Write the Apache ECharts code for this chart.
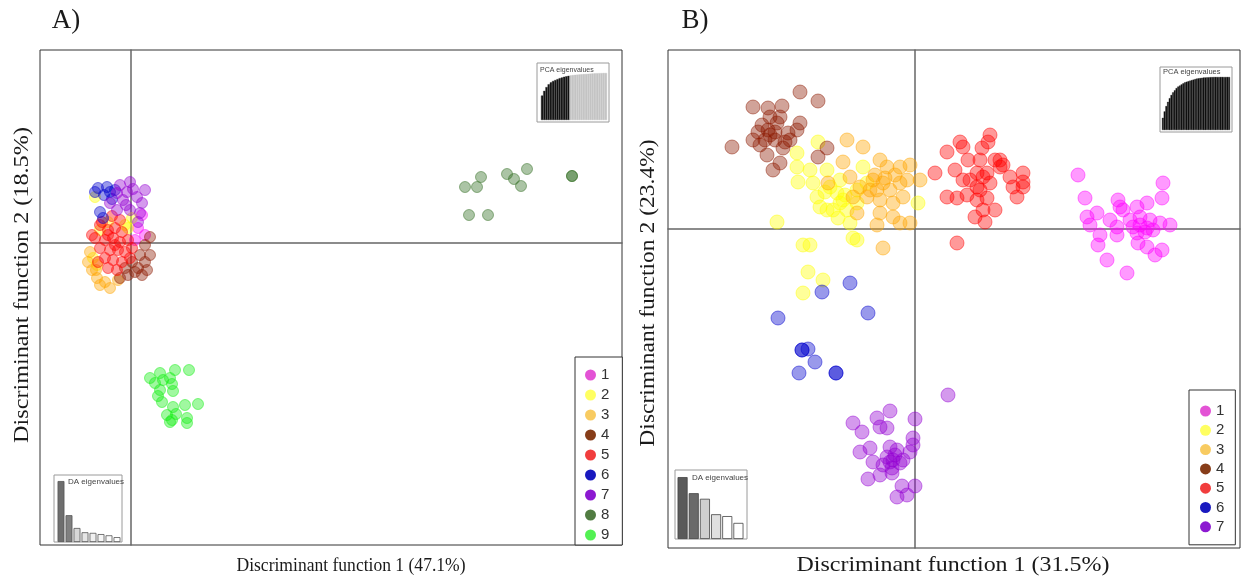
<!DOCTYPE html>
<html><head><meta charset="utf-8">
<script src="https://cdn.jsdelivr.net/npm/echarts@6/dist/echarts.min.js"></script>
<style>html,body{margin:0;padding:0;background:#fff}#c{width:1246px;height:579px}</style>
</head><body><div id="c"></div>
<script>
// ---------- DATA ----------
const groupNamesA = ['1','2','3','4','5','6','7','8','9'];
const groupNamesB = ['1','2','3','4','5','6','7'];
const xTitleA = 'Discriminant function 1 (47.1%)';
const yTitleA = 'Discriminant function 2 (18.5%)';
const xTitleB = 'Discriminant function 1 (31.5%)';
const yTitleB = 'Discriminant function 2 (23.4%)';

// Panel A scores (LD1, LD2)
const A1 = [[0.7,1.5],[1.4,0.8],[1.1,2.8],[0.4,0.3]];
const A2 = [[-3.6,4.6],[0.1,2.5],[-0.6,1.8],[-3.1,1.3],[-3.8,-1.5],[-3.4,-2.2],[-0.3,1.5],[-2.3,2.1]];
const A3 = [[-3.9,-2.7],[-3.4,-3.5],[-2.6,-3.9],[-2.1,-4.5],[-3.1,-4.2],[-4.1,-0.9],[-4.3,-1.9],[-3.5,-2.7],[-1.3,-3.7]];
const A4 = [[0.1,-1.9],[0.7,-2.5],[1.4,-1.9],[1.9,-1.2],[0.9,-1.2],[1.1,-3.2],[0.4,-2.9],[-0.6,-2.5],[1.9,0.6],[1.4,-0.2],[-0.3,-3.2],[-1.1,-3.5],[1.6,-2.7]];
const A5 = [[-3.1,1.8],[-2.3,1.3],[-1.6,1.5],[-0.9,1.1],[-3.6,0.5],[-2.6,0.3],[-1.8,0.5],[-1.1,0.1],[-0.3,0.3],[-3.1,-0.5],[-2.1,-0.7],[-1.3,-0.7],[-0.6,-0.9],[0.1,-0.5],[-2.6,-1.5],[-1.8,-1.7],[-0.9,-1.9],[-3.3,-1.9],[-0.1,-1.5],[-2.3,-2.5],[-1.4,-2.7],[-3.9,0.8],[-2.9,2.1],[-1.9,2.7],[-1.1,2.3],[-1.6,-0.2],[-2.3,0.8]];
const A6 = [[-3.3,5.5],[-2.4,5.6],[-2.1,5.1],[-2.7,4.8],[-1.6,5.3],[-3.1,3.1],[-2.8,2.5],[-1.9,4.4],[-3.6,5.1]];
const A7 = [[-1.4,5.0],[-0.4,5.1],[-0.1,6.1],[-0.8,4.3],[0.6,4.6],[1.1,4.0],[-2.1,4.0],[-1.4,3.3],[-0.1,3.3],[0.9,3.0],[0.7,2.1],[-1.1,5.8],[0.2,5.4],[-0.5,3.8],[1.4,5.3]];
const A8 = [[33.4,5.6],[34.6,5.6],[35.0,6.6],[37.6,6.9],[38.3,6.4],[39.0,5.7],[39.6,7.4],[44.1,6.7],[44.1,6.7],[33.8,2.8],[35.7,2.8]];
const A9 = [[1.9,-13.5],[2.9,-13.0],[3.2,-13.7],[4.4,-12.7],[5.8,-12.7],[3.9,-13.5],[4.1,-14.1],[2.4,-14.0],[2.9,-14.7],[4.2,-14.8],[3.1,-15.9],[2.7,-15.3],[4.2,-16.4],[5.4,-16.2],[6.7,-16.1],[3.6,-17.2],[4.1,-17.7],[3.9,-17.9],[5.6,-17.5],[5.6,-18.0],[4.5,-17.1]];

// Panel B scores (LD1, LD2)
const B1 = [[16.3,5.4],[17.0,3.1],[24.8,4.6],[24.7,3.1],[20.3,2.9],[20.5,2.2],[22.2,2.2],[23.2,2.6],[17.2,1.2],[18.2,1.6],[19.5,0.9],[21.5,0.9],[22.5,1.2],[23.5,0.9],[24.5,0.6],[25.5,0.4],[17.5,0.4],[20.2,0.2],[21.8,0.2],[23.2,0.1],[18.5,-0.6],[20.2,-0.6],[22.2,-0.4],[23.8,-0.1],[18.3,-1.6],[22.3,-1.4],[23.2,-1.8],[24.7,-2.1],[24.0,-2.6],[19.2,-3.1],[21.2,-4.4],[20.8,1.9],[22.5,0.4],[23.0,-0.3]];
const B2 = [[-9.7,8.7],[-11.8,7.6],[-11.8,6.2],[-11.7,4.7],[-10.2,4.6],[-8.8,5.9],[-8.5,4.2],[-7.8,3.6],[-7.5,2.6],[-6.8,1.9],[-8.2,1.9],[-9.5,2.2],[-5.8,2.6],[-6.5,0.6],[-5.8,-1.1],[-6.2,-0.9],[-11.2,-1.6],[-10.5,-1.6],[-13.8,0.7],[-9.8,3.2],[-5.8,3.9],[-7.5,4.9],[-4.8,4.6],[-5.2,6.2],[-8.8,1.9],[-7.7,1.1],[-7.2,2.9],[-7.0,3.4],[0.3,2.6],[-10.7,-4.3],[-9.2,-5.1],[-11.2,-6.4],[-10.5,5.9],[-9.0,3.7]];
const B3 = [[-6.8,8.9],[-5.2,8.2],[-7.2,6.7],[-3.5,6.9],[-2.8,6.2],[-1.5,6.2],[-0.5,6.4],[0.5,4.9],[-6.5,5.2],[-5.5,4.2],[-4.2,4.9],[-3.2,4.6],[-3.8,3.9],[-2.5,3.9],[-1.5,4.6],[-0.8,4.9],[-4.8,3.2],[-3.5,2.9],[-2.2,2.6],[-1.2,3.2],[-6.2,3.2],[-5.8,1.6],[-3.5,1.6],[-2.2,1.2],[-1.5,0.6],[-0.5,0.6],[-3.8,0.4],[-3.2,-1.9],[-8.7,4.6],[-4.0,5.4],[-3.0,5.1],[-4.5,3.9],[-2.0,5.4]];
const B4 = [[-11.5,13.7],[-9.7,12.8],[-16.2,12.2],[-14.7,12.1],[-13.3,12.3],[-15.7,9.7],[-14.7,9.9],[-14.0,9.7],[-12.7,9.6],[-11.8,9.9],[-11.5,10.6],[-14.5,11.2],[-13.5,11.2],[-16.2,8.9],[-15.0,8.9],[-14.0,8.9],[-12.5,8.9],[-18.3,8.2],[-13.2,8.1],[-14.8,7.4],[-13.5,6.6],[-14.2,5.9],[-8.8,8.1],[-9.7,7.2],[-15.3,10.4],[-13.8,10.6],[-14.5,9.4],[-13.0,8.7],[-15.5,8.4]];
const B5 = [[4.5,8.7],[4.8,8.2],[3.2,7.7],[7.5,9.4],[7.3,8.7],[6.7,8.1],[5.3,6.9],[6.5,6.9],[8.5,6.9],[8.8,6.4],[2.0,5.6],[4.0,5.9],[4.8,4.9],[6.2,5.6],[7.2,5.6],[9.5,5.2],[10.8,5.6],[10.8,4.7],[9.8,4.2],[10.8,4.2],[7.5,4.6],[6.2,4.2],[3.2,3.2],[4.2,3.1],[5.2,3.4],[6.2,2.9],[7.2,3.1],[10.2,3.2],[8.0,1.9],[6.8,1.9],[6.0,1.2],[7.0,0.7],[4.2,-1.4],[8.5,6.2],[6.8,5.2],[8.0,6.9],[6.5,3.9],[5.5,4.9]];
const B6 = [[-6.5,-5.4],[-9.3,-6.3],[-13.7,-8.9],[-4.7,-8.4],[-11.3,-12.1],[-11.3,-12.1],[-10.7,-12.0],[-10.0,-13.3],[-11.6,-14.4],[-7.9,-14.4],[-7.9,-14.4]];
const B7 = [[3.3,-16.6],[-2.5,-18.2],[0.0,-19.0],[-3.8,-18.9],[-6.2,-19.4],[-5.3,-20.3],[-3.5,-19.8],[-2.8,-19.9],[-0.2,-20.9],[-0.2,-21.6],[-5.5,-22.3],[-4.5,-21.9],[-2.5,-21.8],[-1.8,-22.1],[-2.8,-22.8],[-2.2,-23.1],[-1.2,-23.1],[-0.5,-22.3],[-4.2,-23.3],[-3.2,-23.6],[-2.3,-23.9],[-1.5,-23.4],[-3.5,-24.6],[-2.3,-24.4],[-4.7,-25.0],[-1.3,-25.7],[0.0,-25.7],[-0.8,-26.6],[-1.8,-26.8],[-2.5,-23.3],[-2.0,-22.6]];

// Inset data
const pcaCumA = [52,62,70,76,80,83,85,87,89,90.5,92,93,94,95,95.5,96,96.5,97,97.3,97.6,98,98.3,98.6,99,99.2,99.4,99.6,99.8,100,100];
const pcaRetainedA = 13;
const pcaCumB = [23,35,45,53,60,66,71,75,79,82,84,86,88,90,91,92,93,94,95,96,97,97.5,98,98.5,99,99,99.3,99.5,99.7,99.8,100,100,100,100,100,100,100,100,100,100];
const pcaRetainedB = 40;
const daEigA = [100,44,23,16,15,13,11,8];
const daEigB = [100,74,65,40,37,26];

// ---------- STYLE ----------
const COLORS = ['#ff00ff','#ffff00','#ffa500','#8b1a00','#ff0000','#0000cd','#9400d3','#2e6b1e','#11ee11'];
const LEGEND_COLORS = ['#e040d0','#ffff50','#f7c550','#7a2800','#f02828','#0000b8','#8000cc','#3e6e2e','#40f040'];
const DA_COLORS_A = ['#6e6e6e','#808080','#d8d8d8','#e6e6e6','#f0f0f0','#f6f6f6','#fbfbfb','#ffffff'];
const DA_COLORS_B = ['#5a5a5a','#6a6a6a','#cfcfcf','#e0e0e0','#ffffff','#ffffff'];

function rgba(hex,a){const n=parseInt(hex.slice(1),16);return 'rgba('+((n>>16)&255)+','+((n>>8)&255)+','+(n&255)+','+a+')';}

const chart = echarts.init(document.getElementById('c'), null, {renderer:'canvas'});

const series = [];
[A1,A2,A3,A4,A5,A6,A7,A8,A9].forEach((d,i)=>series.push({
  name: groupNamesA[i], type:'scatter', xAxisIndex:0, yAxisIndex:0, symbolSize:11, data:d, silent:true,
  itemStyle:{color:rgba(COLORS[i],0.5), borderColor:rgba(COLORS[i],0.6), borderWidth:1}
}));
[B1,B2,B3,B4,B5,B6,B7].forEach((d,i)=>series.push({
  name: groupNamesB[i], type:'scatter', xAxisIndex:1, yAxisIndex:1, symbolSize:14, data:d, silent:true,
  itemStyle:{color:rgba(COLORS[i],0.5), borderColor:rgba(COLORS[i],0.6), borderWidth:1}
}));
series.push({type:'bar', xAxisIndex:2, yAxisIndex:2, barCategoryGap:'0%', silent:true,
  data: pcaCumA.map((v,i)=>({value:v, itemStyle:{color: i<pcaRetainedA?'#111':'#c4c4c4', borderColor: i<pcaRetainedA?'#2a2a2a':'#c4c4c4', borderWidth:0.4}}))});
series.push({type:'bar', xAxisIndex:3, yAxisIndex:3, barCategoryGap:'0%', silent:true,
  data: pcaCumB.map((v,i)=>({value:v, itemStyle:{color: i<pcaRetainedB?'#111':'#c4c4c4', borderColor:'#111', borderWidth:0.3}}))});
series.push({type:'bar', xAxisIndex:4, yAxisIndex:4, barCategoryGap:'14%', silent:true,
  data: daEigA.map((v,i)=>({value:v, itemStyle:{color:DA_COLORS_A[i], borderColor:'#555', borderWidth:0.8}}))});
series.push({type:'bar', xAxisIndex:5, yAxisIndex:5, barCategoryGap:'10%', silent:true,
  data: daEigB.map((v,i)=>({value:v, itemStyle:{color:DA_COLORS_B[i], borderColor:'#444', borderWidth:0.8}}))});

const mainAxisLine = {show:true, onZero:true, lineStyle:{color:'#666', width:1.5}};
function mainX(idx,min,max){return {gridIndex:idx,type:'value',min:min,max:max,axisLine:mainAxisLine,axisTick:{show:false},axisLabel:{show:false},splitLine:{show:false}};}
function mainY(idx,min,max){return {gridIndex:idx,type:'value',min:min,max:max,axisLine:mainAxisLine,axisTick:{show:false},axisLabel:{show:false},splitLine:{show:false}};}
function catX(idx,arr){return {gridIndex:idx,type:'category',data:arr.map((_,i)=>String(i+1)),show:false};}
function valY(idx,max){return {gridIndex:idx,type:'value',min:0,max:max,show:false};}

const serif = '"Liberation Serif","DejaVu Serif",serif';
function label(text,x,y,size,rot,sx){
  return {type:'text', x:x, y:y, rotation:rot||0, scaleX:sx||1, scaleY:1, silent:true, z:10,
    style:{text:text, fill:'#1a1a1a', font:size+'px '+serif, fontSize:size, fontFamily:serif,
      align:'center', verticalAlign:'middle', textAlign:'center', textVerticalAlign:'middle'}};
}
function small(text,x,y,size){
  return {type:'text', x:x, y:y, silent:true, z:10,
    style:{text:text, fill:'#444', font:size+'px "Liberation Sans",sans-serif', fontSize:size,
      align:'left', verticalAlign:'middle', textAlign:'left', textVerticalAlign:'middle'}};
}
function frame(x,y,w,h){return {type:'rect', shape:{x:x,y:y,width:w,height:h}, silent:true, z:0, style:{fill:'none', stroke:'#9a9a9a', lineWidth:1}};}

function legend(names,left,top,padding,gap){
  return {orient:'vertical', left:left, top:top, padding:padding, itemGap:gap, itemWidth:11, itemHeight:11,
    icon:'circle', borderColor:'#333', borderWidth:1, backgroundColor:'#fff', selectedMode:false,
    textStyle:{fontSize:15, lineHeight:16, fontFamily:'"Liberation Sans",Arial,sans-serif', color:'#333'},
    data:names.map((n,i)=>({name:n, itemStyle:{color:LEGEND_COLORS[i], opacity:0.9, borderWidth:0}}))};
}

chart.setOption({
  animation:false,
  backgroundColor:'#fff',
  grid:[
    {left:40, top:50, width:582, height:495, show:true, borderColor:'#333', borderWidth:1},
    {left:668, top:50, width:572, height:498, show:true, borderColor:'#333', borderWidth:1},
    {left:541, top:73, width:66, height:47},
    {left:1162, top:77, width:68, height:53},
    {left:57, top:478, width:64, height:64},
    {left:677, top:474, width:67, height:65}
  ],
  xAxis:[mainX(0,-9.1,49.1), mainX(1,-24.7,32.5), catX(2,pcaCumA), catX(3,pcaCumB), catX(4,daEigA), catX(5,daEigB)],
  yAxis:[mainY(0,-30.2,19.3), mainY(1,-31.9,17.9), valY(2,100), valY(3,100), valY(4,105), valY(5,105)],
  legend:[
    legend(groupNamesA,575,357,[10,13,2,10],4),
    legend(groupNamesB,1189,390,[13,11,10,11],3.3)
  ],
  graphic:[
    frame(537,63,72,59), frame(1160,67,72,65), frame(54,475,68,67), frame(675,470,72,69),
    small('PCA eigenvalues',540,70,7), small('PCA eigenvalues',1163,72,7.5),
    small('DA eigenvalues',68,482,8), small('DA eigenvalues',692,478,8),
    label('A)',66,21,27,0,1), label('B)',695,21,27,0,1),
    label(xTitleA,351,566,18,0,0.975), label(yTitleA,22,285,22,Math.PI/2,1.1),
    label(xTitleB,953,565,22,0,1.09), label(yTitleB,648,293,22,Math.PI/2,1.07)
  ],
  series:series
});
</script>
</body></html>
